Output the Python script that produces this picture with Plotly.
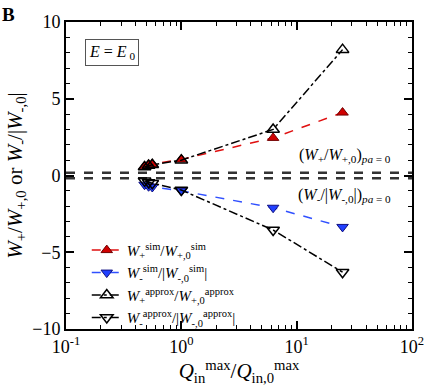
import plotly.graph_objects as go

# Data
q_ratio = [0.48, 0.52, 0.56, 1.0, 6.25, 25.0]
w_plus_sim = [0.6, 0.7, 0.75, 1.05, 2.45, 4.1]
w_minus_sim = [-0.6, -0.7, -0.75, -1.0, -2.1, -3.35]
w_plus_approx = [0.55, 0.65, 0.7, 1.0, 3.0, 8.2]
w_minus_approx = [-0.35, -0.45, -0.5, -0.95, -3.55, -6.3]
ref_plus = 0.18
ref_minus = -0.18
x_range = [0.1, 100.0]

FONT = "Times New Roman"

fig = go.Figure()

fig.add_trace(go.Scatter(
    x=x_range, y=[ref_plus, ref_plus], mode="lines", showlegend=False,
    line=dict(color="#333333", width=2.5, dash="dash"), hoverinfo="skip"))
fig.add_trace(go.Scatter(
    x=x_range, y=[ref_minus, ref_minus], mode="lines", showlegend=False,
    line=dict(color="#333333", width=2.5, dash="dash"), hoverinfo="skip"))

fig.add_trace(go.Scatter(
    x=q_ratio, y=w_plus_sim, mode="lines+markers",
    name="<i>W</i><sub>+</sub><sup>sim</sup>/<i>W</i><sub>+,0</sub><sup>sim</sup>",
    line=dict(color="#e01010", width=1.5, dash="dash"),
    marker=dict(symbol="triangle-up", size=10, color="#d00000",
                line=dict(color="#700000", width=1))))
fig.add_trace(go.Scatter(
    x=q_ratio, y=w_minus_sim, mode="lines+markers",
    name="<i>W</i><sub>-</sub><sup>sim</sup>/|<i>W</i><sub>-,0</sub><sup>sim</sup>|",
    line=dict(color="#3050ff", width=1.5, dash="dash"),
    marker=dict(symbol="triangle-down", size=10, color="#2040ff",
                line=dict(color="#101080", width=1))))
fig.add_trace(go.Scatter(
    x=q_ratio, y=w_plus_approx, mode="lines+markers",
    name="<i>W</i><sub>+</sub><sup>approx</sup>/<i>W</i><sub>+,0</sub><sup>approx</sup>",
    line=dict(color="black", width=1.5, dash="dashdot"),
    marker=dict(symbol="triangle-up-open", size=11, color="black",
                line=dict(color="black", width=1.5))))
fig.add_trace(go.Scatter(
    x=q_ratio, y=w_minus_approx, mode="lines+markers",
    name="<i>W</i><sub>-</sub><sup>approx</sup>/|<i>W</i><sub>-,0</sub><sup>approx</sup>|",
    line=dict(color="black", width=1.5, dash="dashdot"),
    marker=dict(symbol="triangle-down-open", size=11, color="black",
                line=dict(color="black", width=1.5))))

fig.update_layout(
    width=436, height=388,
    margin=dict(l=66, r=23, t=19, b=59),
    plot_bgcolor="white", paper_bgcolor="white",
    font=dict(family=FONT, size=14, color="black"),
    legend=dict(x=0.06, y=0.31, xanchor="left", yanchor="top",
                bgcolor="rgba(0,0,0,0)", borderwidth=0,
                font=dict(family=FONT, size=15), tracegroupgap=0,
                itemwidth=30),
)

fig.update_xaxes(
    type="log", range=[-1, 2], showgrid=False, zeroline=False,
    showline=True, linecolor="black", linewidth=2, mirror="ticks",
    ticks="inside", ticklen=8, tickwidth=1.5, tickcolor="black",
    tickvals=[0.1, 1, 10, 100],
    ticktext=["10<sup>-1</sup>", "10<sup>0</sup>", "10<sup>1</sup>", "10<sup>2</sup>"],
    tickfont=dict(family=FONT, size=18),
    minor=dict(ticks="inside", ticklen=4, tickcolor="black", tickwidth=1,
               dtick="D1", showgrid=False),
    title=dict(text="<i>Q</i><sub>in</sub><sup>max</sup>/<i>Q</i><sub>in,0</sub><sup>max</sup>",
               font=dict(family=FONT, size=21), standoff=0),
)
fig.update_yaxes(
    range=[-10, 10], showgrid=False, zeroline=False,
    showline=True, linecolor="black", linewidth=2, mirror="ticks",
    ticks="inside", ticklen=8, tickwidth=1.5, tickcolor="black",
    tickvals=[-10, -5, 0, 5, 10],
    tickfont=dict(family=FONT, size=18),
    minor=dict(ticks="inside", ticklen=4, tickcolor="black", tickwidth=1,
               dtick=1, showgrid=False),
    title=dict(text="<i>W</i><sub>+</sub>/<i>W</i><sub>+,0</sub> or <i>W</i><sub>-</sub>/|<i>W</i><sub>-,0</sub>|",
               font=dict(family=FONT, size=21), standoff=4),
)

fig.add_annotation(xref="paper", yref="paper", x=-0.19, y=1.065,
                   text="<b>B</b>", showarrow=False, xanchor="left", yanchor="top",
                   font=dict(family=FONT, size=19))
fig.add_annotation(xref="paper", yref="paper", x=0.055, y=0.945,
                   text="<i>E</i> = <i>E</i><sub> 0</sub>", showarrow=False,
                   xanchor="left", yanchor="top",
                   bordercolor="#555555", borderwidth=1, borderpad=3,
                   font=dict(family=FONT, size=16))
fig.add_annotation(xref="paper", yref="y", x=0.945, y=ref_plus + 0.35,
                   text="(<i>W</i><sub>+</sub>/<i>W</i><sub>+,0</sub>)<sub><i>pa</i> = 0</sub>",
                   showarrow=False, xanchor="right", yanchor="bottom",
                   font=dict(family=FONT, size=16))
fig.add_annotation(xref="paper", yref="y", x=0.945, y=ref_minus - 0.35,
                   text="(<i>W</i><sub>-</sub>/|<i>W</i><sub>-,0</sub>|)<sub><i>pa</i> = 0</sub>",
                   showarrow=False, xanchor="right", yanchor="top",
                   font=dict(family=FONT, size=16))

fig.write_html("out.html", config={"displayModeBar": False},
               post_script="document.body.style.margin='0';")
